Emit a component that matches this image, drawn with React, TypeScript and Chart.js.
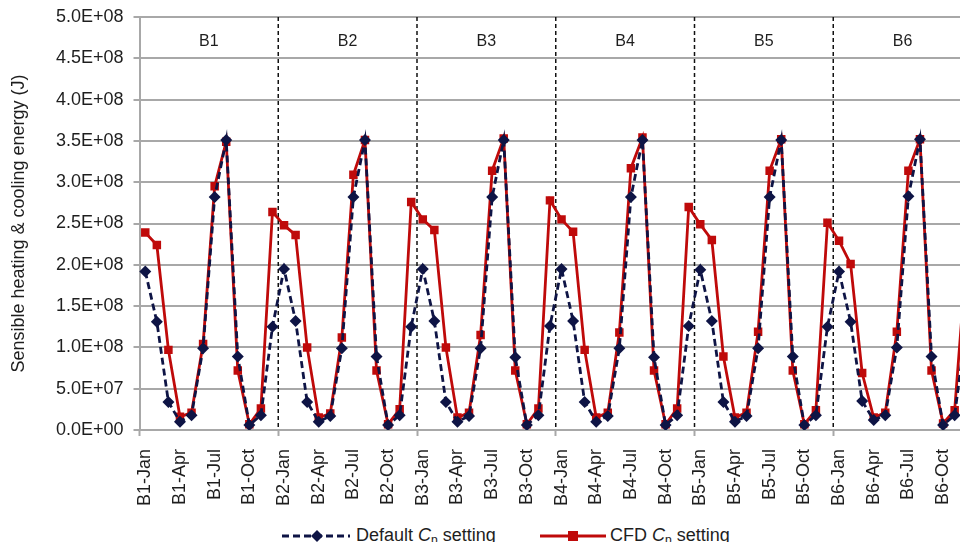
import React, { useEffect, useRef } from 'react';
import { Chart, registerables } from 'chart.js';

Chart.register(...registerables);

const FONT = '"Liberation Sans", Arial, Helvetica, sans-serif';

const buildings = ['B1', 'B2', 'B3', 'B4', 'B5', 'B6'];
const months = ['Jan', 'Feb', 'Mar', 'Apr', 'May', 'Jun', 'Jul', 'Aug', 'Sep', 'Oct', 'Nov', 'Dec'];
const categories = buildings.flatMap((b) => months.map((m) => `${b}-${m}`));
const labelledMonths = ['Jan', 'Apr', 'Jul', 'Oct'];

// Default Cp setting (J)
const defaultCp = [
  1.92e8, 1.31e8, 0.34e8, 0.10e8, 0.18e8, 0.99e8, 2.82e8, 3.51e8, 0.89e8, 0.06e8, 0.18e8, 1.25e8,
  1.95e8, 1.32e8, 0.34e8, 0.10e8, 0.17e8, 0.99e8, 2.82e8, 3.51e8, 0.89e8, 0.06e8, 0.18e8, 1.25e8,
  1.95e8, 1.32e8, 0.34e8, 0.10e8, 0.17e8, 0.99e8, 2.82e8, 3.51e8, 0.88e8, 0.06e8, 0.18e8, 1.26e8,
  1.95e8, 1.32e8, 0.34e8, 0.10e8, 0.17e8, 0.99e8, 2.82e8, 3.51e8, 0.88e8, 0.06e8, 0.18e8, 1.26e8,
  1.94e8, 1.32e8, 0.34e8, 0.10e8, 0.17e8, 0.99e8, 2.82e8, 3.51e8, 0.89e8, 0.06e8, 0.18e8, 1.25e8,
  1.92e8, 1.31e8, 0.35e8, 0.12e8, 0.18e8, 1.00e8, 2.83e8, 3.52e8, 0.89e8, 0.06e8, 0.18e8, 1.25e8,
];

// CFD Cp setting (J)
const cfdCp = [
  2.39e8, 2.24e8, 0.97e8, 0.16e8, 0.21e8, 1.04e8, 2.95e8, 3.49e8, 0.72e8, 0.07e8, 0.26e8, 2.64e8,
  2.48e8, 2.36e8, 1.00e8, 0.15e8, 0.20e8, 1.12e8, 3.09e8, 3.51e8, 0.72e8, 0.07e8, 0.25e8, 2.76e8,
  2.55e8, 2.42e8, 1.00e8, 0.15e8, 0.21e8, 1.15e8, 3.14e8, 3.53e8, 0.72e8, 0.07e8, 0.26e8, 2.78e8,
  2.55e8, 2.40e8, 0.97e8, 0.15e8, 0.21e8, 1.18e8, 3.17e8, 3.54e8, 0.72e8, 0.07e8, 0.26e8, 2.70e8,
  2.49e8, 2.30e8, 0.89e8, 0.15e8, 0.21e8, 1.19e8, 3.14e8, 3.52e8, 0.72e8, 0.07e8, 0.24e8, 2.51e8,
  2.29e8, 2.01e8, 0.69e8, 0.15e8, 0.21e8, 1.19e8, 3.14e8, 3.52e8, 0.72e8, 0.08e8, 0.24e8, 2.06e8,
];

const yMin = 0;
const yMax = 5e8;
const yStep = 5e7;

const NAVY = '#0e1445';
const RED = '#bf0a0a';
const GRID = '#a8a8a8';
const TEXT = '#1e1e1e';

function sci(v: number): string {
  const r = Math.round(v / 1e5) * 1e5;
  if (r === 0) return '0.0E+00';
  const e = Math.floor(Math.log10(r) + 1e-9);
  const m = r / Math.pow(10, e);
  return `${m.toFixed(1)}E+${String(e).padStart(2, '0')}`;
}

const sectionPlugin = {
  id: 'sections',
  beforeDatasetsDraw(chart: any) {
    const { ctx, chartArea, scales } = chart;
    const x = scales.x;
    ctx.save();
    ctx.strokeStyle = '#111111';
    ctx.lineWidth = 1.5;
    ctx.setLineDash([4, 3]);
    for (let b = 1; b < buildings.length; b++) {
      const px = x.getPixelForValue(b * months.length - 0.5);
      ctx.beginPath();
      ctx.moveTo(px, chartArea.top);
      ctx.lineTo(px, chartArea.bottom);
      ctx.stroke();
    }
    ctx.setLineDash([]);
    ctx.font = `16px ${FONT}`;
    ctx.fillStyle = TEXT;
    ctx.textAlign = 'center';
    ctx.textBaseline = 'middle';
    buildings.forEach((b, i) => {
      const cx = x.getPixelForValue(i * months.length + (months.length - 1) / 2);
      ctx.fillText(b, cx, chartArea.top + 25);
    });
    ctx.restore();
  },
};

export default function App() {
  const canvasRef = useRef<HTMLCanvasElement | null>(null);

  useEffect(() => {
    const canvas = canvasRef.current;
    if (!canvas) return;
    const chart = new Chart(canvas, {
      type: 'line',
      data: {
        labels: categories,
        datasets: [
          {
            label: 'Default Cp setting',
            data: defaultCp,
            borderColor: NAVY,
            backgroundColor: NAVY,
            borderWidth: 2.8,
            borderDash: [7, 4],
            pointStyle: 'rectRot',
            pointRadius: 6,
            pointBorderWidth: 0,
            tension: 0,
          },
          {
            label: 'CFD Cp setting',
            data: cfdCp,
            borderColor: RED,
            backgroundColor: RED,
            borderWidth: 2.8,
            pointStyle: 'rect',
            pointRadius: 6,
            pointBorderWidth: 0,
            tension: 0,
          },
        ],
      },
      options: {
        responsive: false,
        animation: false,
        devicePixelRatio: 1,
        layout: { padding: { left: 0, right: 26, top: 0, bottom: 0 } },
        plugins: {
          legend: { display: false },
          tooltip: { enabled: false },
        },
        scales: {
          x: {
            type: 'category',
            offset: true,
            afterFit: (scale: any) => {
              scale.height = 88;
              scale.paddingLeft = 0;
              scale.paddingRight = 0;
            },
            grid: {
              display: true,
              offset: true,
              drawOnChartArea: false,
              drawTicks: true,
              tickLength: 6,
              tickWidth: 2,
              tickColor: (ctx: any) => (ctx.index % months.length === 0 ? GRID : 'rgba(0,0,0,0)'),
            },
            border: { display: true, color: GRID, width: 2 },
            ticks: {
              autoSkip: false,
              maxRotation: 90,
              minRotation: 90,
              padding: 13,
              color: TEXT,
              font: { family: FONT, size: 18 },
              callback: (_v: any, i: number) => {
                const lab = categories[i];
                const m = lab.split('-')[1];
                return labelledMonths.includes(m) ? lab : '';
              },
            },
          },
          y: {
            min: yMin,
            max: yMax,
            afterFit: (scale: any) => {
              scale.width = 131.5;
              scale.paddingTop = 9;
              scale.paddingBottom = 9;
            },
            grid: {
              color: GRID,
              lineWidth: 2,
              tickLength: 6,
              tickColor: GRID,
              tickWidth: 2,
            },
            border: { display: true, color: GRID, width: 2 },
            ticks: {
              stepSize: yStep,
              padding: 10,
              color: TEXT,
              font: { family: FONT, size: 18, lineHeight: 1.0 },
              callback: (v: any) => sci(Number(v)),
            },
            title: {
              display: true,
              text: 'Sensible heating & cooling energy (J)',
              color: TEXT,
              font: { family: FONT, size: 18 },
              padding: { top: 0, bottom: 0 },
            },
          },
        },
      },
      plugins: [sectionPlugin],
    });
    return () => chart.destroy();
  }, []);

  const legendText: React.CSSProperties = {
    position: 'absolute',
    top: 515,
    height: 26,
    display: 'flex',
    alignItems: 'center',
    fontFamily: FONT,
    fontSize: 18,
    color: TEXT,
    whiteSpace: 'nowrap',
  };

  return (
    <div style={{ position: 'relative', width: 960, height: 542, overflow: 'hidden', marginBottom: -8 }}>
      <canvas ref={canvasRef} width={990} height={510} style={{ display: 'block' }} />
      <svg style={{ position: 'absolute', left: 274, top: 518 }} width={68} height={20}>
        <line x1={0} y1={10} x2={68} y2={10} stroke={NAVY} strokeWidth={3} strokeDasharray="7 4" />
        <polygon points="35,4 41,10 35,16 29,10" fill={NAVY} />
      </svg>
      <div style={{ ...legendText, left: 348 }}>
        <span>
          Default <i>C</i>
          <sub style={{ fontSize: 12, verticalAlign: -3 }}>p</sub> setting
        </span>
      </div>
      <svg style={{ position: 'absolute', left: 532, top: 518 }} width={66} height={20}>
        <line x1={0} y1={10} x2={66} y2={10} stroke={RED} strokeWidth={3} />
        <rect x={28} y={5} width={10} height={10} fill={RED} />
      </svg>
      <div style={{ ...legendText, left: 602 }}>
        <span>
          CFD <i>C</i>
          <sub style={{ fontSize: 12, verticalAlign: -3 }}>p</sub> setting
        </span>
      </div>
    </div>
  );
}
